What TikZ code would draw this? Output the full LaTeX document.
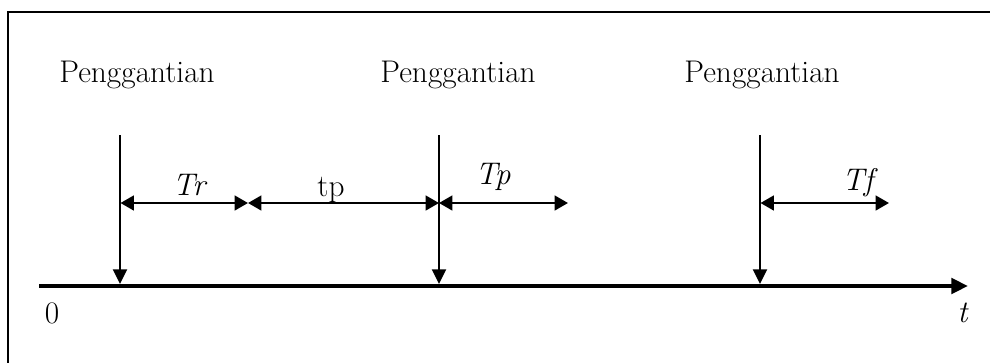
\documentclass[tikz,border=0pt]{standalone}
\usepackage{tikz}
\usetikzlibrary{arrows.meta}

\begin{document}
\begin{tikzpicture}[
    x=0.75pt, y=-0.75pt,
    font=\fontsize{23.5}{28}\selectfont,
    axis/.style={line width=3pt, -{Triangle[length=12.5pt,width=11.5pt]}},
    drop/.style={line width=1.6pt, -{Triangle[length=11pt,width=10.5pt]}},
    span/.style={line width=1.8pt, {Triangle[length=10pt,width=11pt]}-{Triangle[length=10pt,width=11pt]}},
    event/.style={anchor=center, inner sep=0pt},
    annot/.style={anchor=center, inner sep=0pt}
]
\useasboundingbox (0,0) rectangle (990,362);
\clip (0,0) rectangle (990,362);

% frame, running off the right and bottom edges
\draw[line width=1.6pt] (8,400) |- (1000,12);

% time axis
\node[annot] (zero) at (52,313) {0};
\node[annot] (tlab) at (963,313) {\textit{t}};
\coordinate (ax_start) at (39,286);
\coordinate (ax_end) at (968,286);
\draw[axis] (ax_start) -- (ax_end);

% replacement events
\node[event] (rep1) at (137,75) {Penggantian};
\node[event] (rep2) at (458,75) {Penggantian};
\node[event] (rep3) at (762,75) {Penggantian};

\coordinate (top1) at (120,135);
\coordinate (top2) at (439,135);
\coordinate (top3) at (760,135);
\coordinate (hit1) at (120,284);
\coordinate (hit2) at (439,284);
\coordinate (hit3) at (760,284);
\draw[drop] (top1) -- (hit1);
\draw[drop] (top2) -- (hit2);
\draw[drop] (top3) -- (hit3);

% intervals
\coordinate (tr_a) at (120.5,203);
\coordinate (tr_b) at (248,203);
\coordinate (tp_a) at (248,203);
\coordinate (tp_b) at (439,203);
\coordinate (pp_a) at (439,203);
\coordinate (pp_b) at (568,203);
\coordinate (tf_a) at (760.5,203);
\coordinate (tf_b) at (889,203);
\draw[span] (tr_a) -- (tr_b);
\draw[span] (tp_a) -- (tp_b);
\draw[span] (pp_a) -- (pp_b);
\draw[span] (tf_a) -- (tf_b);

\node[annot] (lab_tr) at (190,185) {\textit{Tr}};
\node[annot] (lab_tp) at (331,190) {tp};
\node[annot] (lab_pp) at (493,177) {\textit{Tp}};
\node[annot] (lab_tf) at (860,183) {\textit{Tf}};

\end{tikzpicture}
\end{document}
